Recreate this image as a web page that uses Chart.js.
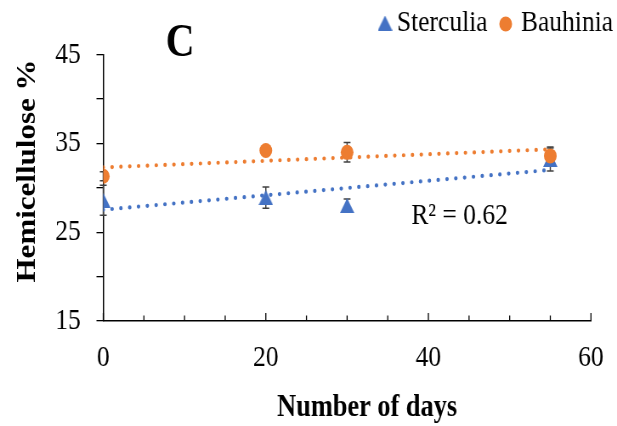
<!DOCTYPE html>
<html><head><meta charset="utf-8">
<script src="https://cdn.jsdelivr.net/npm/chart.js@4.4.1/dist/chart.umd.min.js"></script>
<style>
html,body{margin:0;padding:0;background:#fff;overflow:hidden;width:617px;height:426px}
#wrap{width:726px;height:426px;transform:scaleX(0.8499);transform-origin:0 0}
</style></head><body>
<div id="wrap"><canvas id="c" width="726" height="426"></canvas></div>
<script>
// ---- data ----
const days = [0, 20, 30, 55];
const sterculia = [28.6, 28.9, 28.0, 33.2];
const sterculiaErr = [1.7, 1.2, 0.75, 1.3];
const bauhinia = [31.3, 34.2, 34.0, 33.6];
const bauhiniaErr = [0.5, 0.5, 1.1, 1.0];
const xTickLabels = [0, 20, 40, 60];
const yTickLabels = [15, 25, 35, 45];
const seriesNames = ['Sterculia', 'Bauhinia'];
const r2Text = 'R\u00B2 = 0.62';
const panelLabel = 'C';
const xTitle = 'Number of days';
const yTitle = 'Hemicellulose %';

// ---- style ----
const BLUE = '#4472C4', ORANGE = '#ED7D31';
const FONT = "'Liberation Serif','Times New Roman',serif";

function linFit(xs, ys) {
  const n = xs.length;
  const mx = xs.reduce((a, b) => a + b, 0) / n;
  const my = ys.reduce((a, b) => a + b, 0) / n;
  let sxy = 0, sxx = 0;
  for (let i = 0; i < n; i++) { sxy += (xs[i] - mx) * (ys[i] - my); sxx += (xs[i] - mx) ** 2; }
  const m = sxy / sxx;
  return { m, b: my - m * mx };
}
function trend(xs, ys) {
  const f = linFit(xs, ys);
  const x0 = Math.min(...xs), x1 = Math.max(...xs);
  return [{ x: x0, y: f.b + f.m * x0 }, { x: x1, y: f.b + f.m * x1 }];
}
function makeTri(w, h, color) {
  const c = document.createElement('canvas');
  c.width = w; c.height = h;
  const g = c.getContext('2d');
  g.fillStyle = color;
  g.beginPath(); g.moveTo(w / 2, 0); g.lineTo(w, h); g.lineTo(0, h); g.closePath(); g.fill();
  return c;
}
const tri = makeTri(17, 15, BLUE);

const errorBars = {
  id: 'errorBars',
  beforeDatasetsDraw(chart) {
    const { ctx, scales: { x, y } } = chart;
    ctx.save();
    ctx.strokeStyle = '#404040';
    ctx.lineWidth = 1.5;
    chart.data.datasets.forEach(ds => {
      if (!ds.errors) return;
      ds.data.forEach((p, i) => {
        const px = x.getPixelForValue(p.x);
        const t = y.getPixelForValue(p.y + ds.errors[i]);
        const b = y.getPixelForValue(p.y - ds.errors[i]);
        ctx.beginPath();
        ctx.moveTo(px, t); ctx.lineTo(px, b);
        ctx.moveTo(px - 4, t); ctx.lineTo(px + 4, t);
        ctx.moveTo(px - 4, b); ctx.lineTo(px + 4, b);
        ctx.stroke();
      });
    });
    ctx.restore();
  }
};

const decor = {
  id: 'decor',
  afterDraw(chart) {
    const { ctx, scales: { x }, chartArea } = chart;
    ctx.save();
    // inward x tick marks
    ctx.strokeStyle = '#000'; ctx.lineWidth = 1.3;
    for (let v = x.min; v <= x.max + 1e-9; v += 5) {
      const px = x.getPixelForValue(v);
      const len = xTickLabels.includes(v) ? 8 : 5.5;
      ctx.beginPath(); ctx.moveTo(px, chartArea.bottom); ctx.lineTo(px, chartArea.bottom - len); ctx.stroke();
    }
    ctx.fillStyle = '#000';
    // panel label
    ctx.font = 'bold 47px ' + FONT;
    ctx.textAlign = 'center'; ctx.textBaseline = 'alphabetic';
    ctx.fillText(panelLabel, 212, 56);
    // R2
    ctx.font = '30px ' + FONT;
    ctx.textAlign = 'left';
    ctx.fillText(r2Text, 484, 224);
    // axis titles
    ctx.font = 'bold 31px ' + FONT;
    ctx.textAlign = 'center';
    ctx.fillText(xTitle, 432, 416);
    ctx.save();
    ctx.translate(41, 171);
    ctx.rotate(-Math.PI / 2);
    ctx.fillText(yTitle, 0, 0);
    ctx.restore();
    // legend
    ctx.drawImage(tri, 453 - 8.5, 23 - 7.5);
    ctx.font = '30px ' + FONT;
    ctx.textAlign = 'left';
    ctx.fillText(seriesNames[0], 467, 31);
    ctx.fillStyle = ORANGE;
    ctx.beginPath(); ctx.arc(595, 24, 7.5, 0, Math.PI * 2); ctx.fill();
    ctx.fillStyle = '#000';
    ctx.fillText(seriesNames[1], 613, 31);
    ctx.restore();
  }
};

new Chart(document.getElementById('c'), {
  type: 'scatter',
  data: {
    datasets: [
      { label: seriesNames[0] + ' trend', type: 'line', data: trend(days, sterculia),
        borderColor: BLUE, borderWidth: 4.2, borderDash: [0, 10.4], borderCapStyle: 'round',
        pointRadius: 0, fill: false, order: 0 },
      { label: seriesNames[1] + ' trend', type: 'line', data: trend(days, bauhinia),
        borderColor: ORANGE, borderWidth: 4.2, borderDash: [0, 10.4], borderCapStyle: 'round',
        pointRadius: 0, fill: false, order: 0 },
      { label: seriesNames[1], data: days.map((d, i) => ({ x: d, y: bauhinia[i] })),
        pointStyle: 'circle', pointRadius: 7.5, backgroundColor: ORANGE, borderColor: ORANGE,
        borderWidth: 0, order: 1, errors: bauhiniaErr },
      { label: seriesNames[0], data: days.map((d, i) => ({ x: d, y: sterculia[i] })),
        pointStyle: tri, pointRadius: 9, backgroundColor: BLUE, borderColor: BLUE,
        borderWidth: 0, order: 2, errors: sterculiaErr }
    ]
  },
  options: {
    responsive: false,
    animation: false,
    devicePixelRatio: 1,
    layout: { padding: { top: 54.7, right: 30.7, bottom: 0, left: 0 } },
    plugins: { legend: { display: false }, tooltip: { enabled: false } },
    scales: {
      x: {
        type: 'linear', min: 0, max: 60,
        afterBuildTicks: s => { s.ticks = xTickLabels.map(v => ({ value: v })); },
        ticks: { font: { family: FONT, size: 30 }, color: '#000', padding: 19, maxRotation: 0, autoSkip: false },
        grid: { display: false, drawTicks: false },
        border: { display: true, color: '#000', width: 1.5 },
        afterFit: s => { s.height = 105; s.paddingLeft = 0; s.paddingRight = 0; }
      },
      y: {
        type: 'linear', min: 15, max: 45,
        ticks: { stepSize: 5, autoSkip: false, callback: v => yTickLabels.includes(v) ? String(v) : '',
          font: { family: FONT, size: 30 }, color: '#000', padding: 18.5 },
        grid: { drawOnChartArea: false, drawTicks: true, tickLength: 8, color: '#000', lineWidth: 1.3 },
        border: { display: true, color: '#000', width: 1.5 },
        afterFit: s => { s.width = 121.5; s.paddingTop = 0; s.paddingBottom = 0; }
      }
    }
  },
  plugins: [errorBars, decor]
});
</script>
</body></html>
